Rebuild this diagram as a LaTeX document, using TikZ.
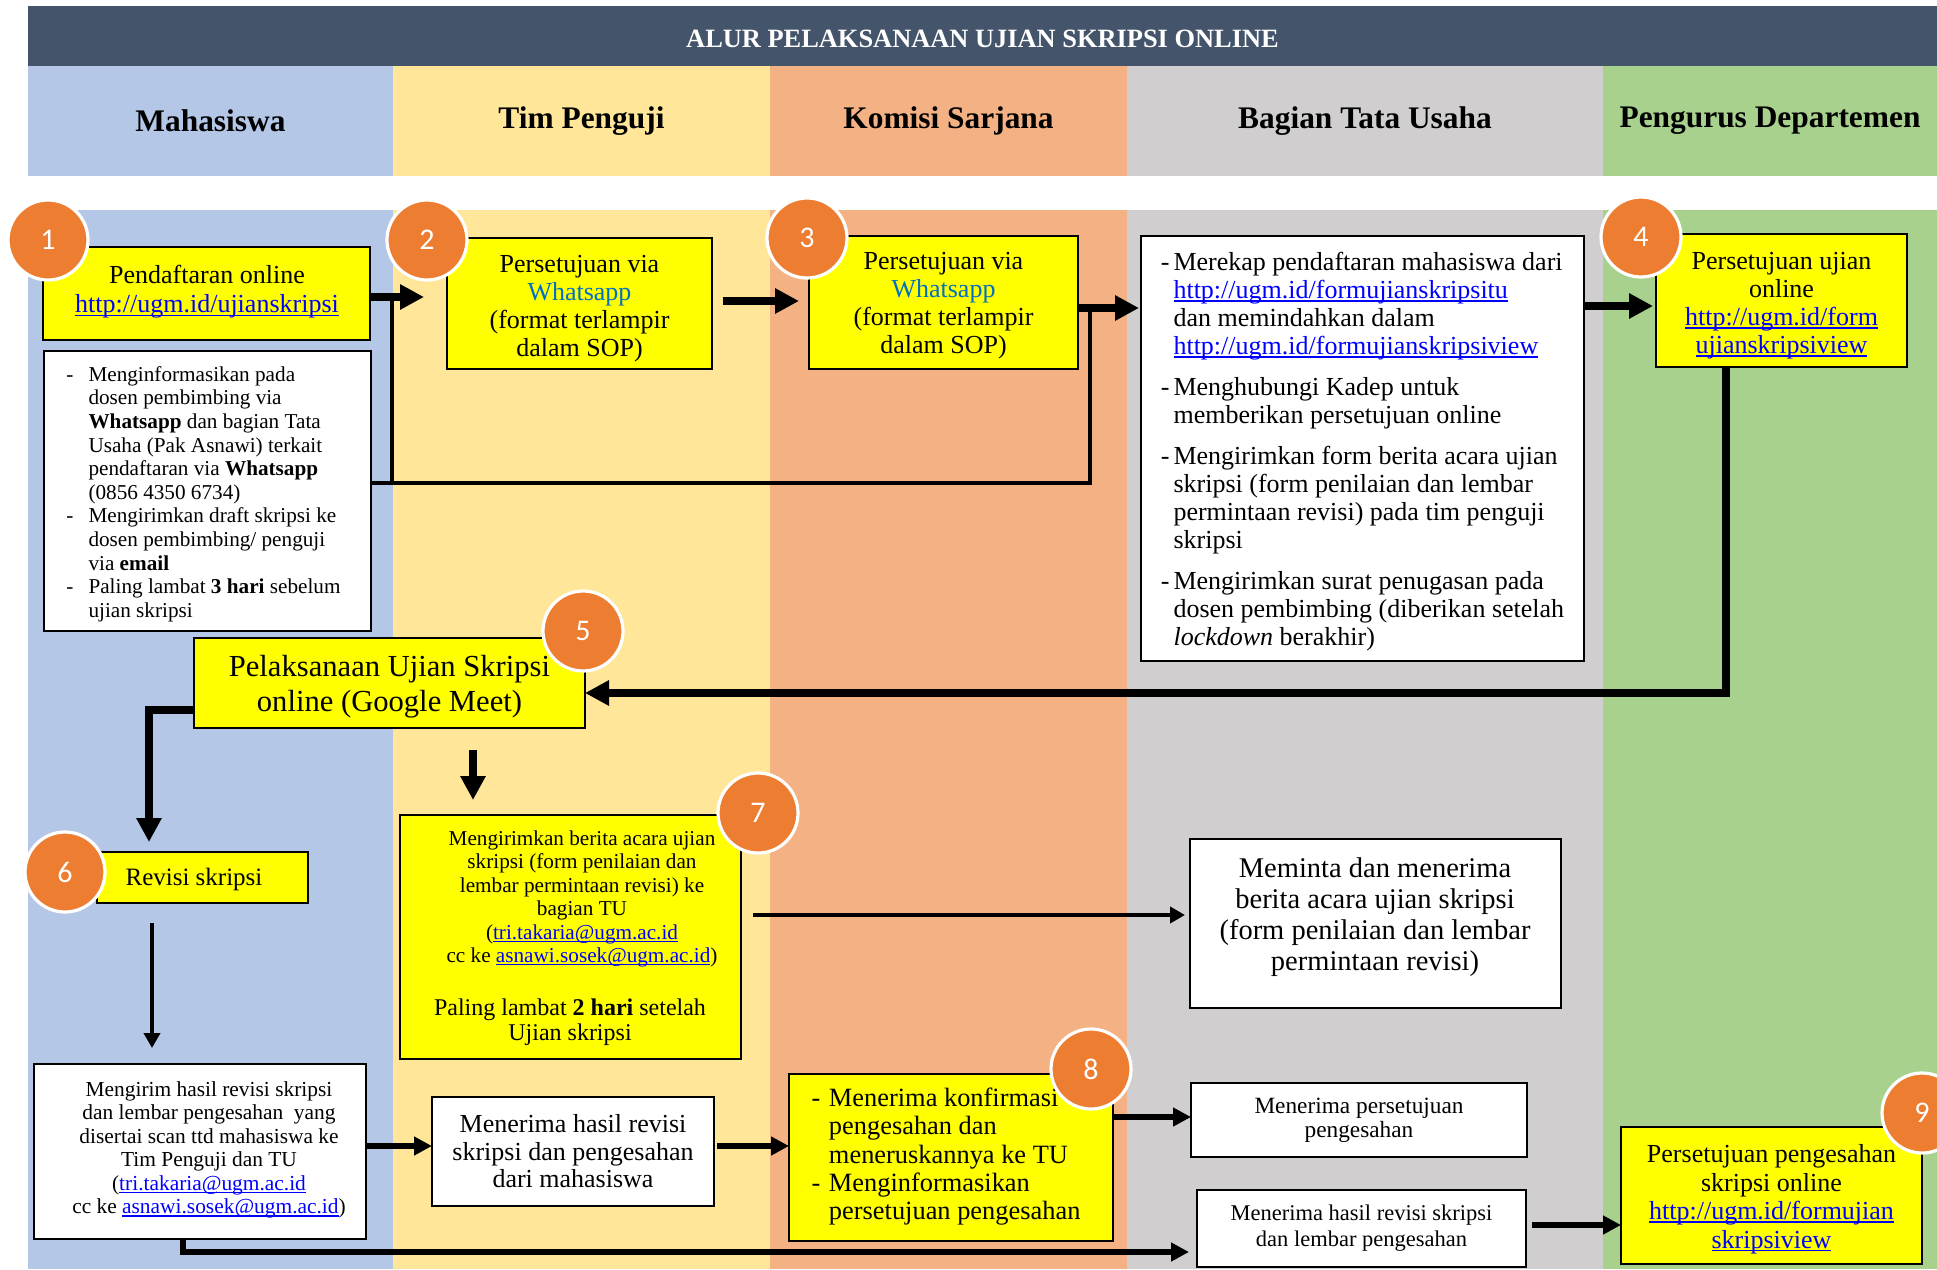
\documentclass[tikz,border=0pt]{standalone}
\usepackage{fontspec}
\setmainfont{Liberation Serif}
\newfontfamily\numfont{Carlito}
\usetikzlibrary{arrows.meta,calc}
\definecolor{titlebg}{HTML}{44546A}
\definecolor{lblue}{HTML}{B4C7E7}
\definecolor{lyellow}{HTML}{FFE699}
\definecolor{lorange}{HTML}{F4B183}
\definecolor{lgray}{HTML}{D0CECE}
\definecolor{lgreen}{HTML}{A9D18E}
\definecolor{boxyellow}{HTML}{FFFF00}
\definecolor{circ}{HTML}{ED7D31}
\definecolor{wablue}{HTML}{0070C0}
\definecolor{linkblue}{HTML}{0000FF}
\newcommand{\fs}[2]{\fontsize{#1}{#2}\selectfont}
\newsavebox{\lnkbox}
\newcommand{\lnk}[1]{{\color{linkblue}\sbox{\lnkbox}{#1}\rlap{\rule[-0.13em]{\wd\lnkbox}{0.065em}}\usebox{\lnkbox}}}
\newcommand{\sd}[1]{\rule{0pt}{#1em}}
% box from pixel corners: style, name, x1, y1, x2, y2 ; then {text};
\newcommand{\mkbox}[6]{%
  \pgfmathsetmacro{\bxcx}{(#3+#5)/2}%
  \pgfmathsetmacro{\bxcy}{(#4+#6)/2}%
  \pgfmathsetmacro{\bxw}{(#5-#3)*0.5}%
  \pgfmathsetmacro{\bxh}{(#6-#4)*0.5}%
  \node[#1, minimum width=\bxw pt, minimum height=\bxh pt] (#2) at (\bxcx,\bxcy)}
\begin{document}
\begin{tikzpicture}[x=0.5pt,y=-0.5pt,
  box/.style={draw=black, line width=1pt, inner sep=0pt, outer sep=0pt, align=center},
  ybox/.style={box, fill=boxyellow},
  wbox/.style={box, fill=white},
  numc/.style={circle, fill=circ, draw=white, line width=1.6pt, minimum size=40pt, inner sep=0pt, text=white, font=\numfont\fs{15}{18}},
  lane/.style={inner sep=0pt, outer sep=0pt, font=\bfseries\fs{15.7}{18}},
  txt/.style={inner sep=0pt, align=center},
  thickarr/.style={line width=3.8pt, -{Triangle[length=12pt,width=12pt]}},
  midarr/.style={line width=2.8pt, -{Triangle[length=9pt,width=9pt]}},
  thinarr/.style={line width=2.2pt, -{Triangle[length=7.5pt,width=8pt]}},
  conn/.style={line width=2pt}
]
\useasboundingbox (0,0) rectangle (1937,1269);
\fill[white] (0,0) rectangle (1937,1269);

% title and lane headers
\mkbox{lane, fill=titlebg, text=white, font=\bfseries\fs{13.2}{15}}{title}{28}{6}{1937}{66} {\sd{0.85}ALUR PELAKSANAAN UJIAN SKRIPSI ONLINE};
\mkbox{lane, fill=lblue}{hM}{28}{66}{393}{176} {Mahasiswa};
\mkbox{lane, fill=lyellow}{hT}{393}{66}{770}{176} {Tim Penguji};
\mkbox{lane, fill=lorange}{hK}{770}{66}{1127}{176} {Komisi Sarjana};
\mkbox{lane, fill=lgray}{hB}{1127}{66}{1603}{176} {Bagian Tata Usaha};
\mkbox{lane, fill=lgreen}{hP}{1603}{66}{1937}{176} {Pengurus Departemen};

% body lanes
\fill[lblue] (28,210) rectangle (393,1269);
\fill[lyellow] (393,210) rectangle (770,1269);
\fill[lorange] (770,210) rectangle (1127,1269);
\fill[lgray] (1127,210) rectangle (1603,1269);
\fill[lgreen] (1603,210) rectangle (1937,1269);

% boxes
\mkbox{ybox}{b1}{43}{247}{370}{340} {};
\node[txt, font=\fs{13}{14.5}] (b1t) at (207,292) {Pendaftaran online\\\lnk{http://ugm.id/ujianskripsi}};

\mkbox{wbox, font=\fs{10.6}{11.8}}{w1}{44}{351}{371}{631} {\hspace*{-4pt}\begin{tabular}{@{}l@{\hspace{7.5pt}}l@{}}
-\sd{1.12}& Menginformasikan pada\\
 & dosen pembimbing via\\
 & \textbf{Whatsapp} dan bagian Tata\\
 & Usaha (Pak Asnawi) terkait\\
 & pendaftaran via \textbf{Whatsapp}\\
 & (0856 4350 6734)\\
-& Mengirimkan draft skripsi ke\\
 & dosen pembimbing/ penguji\\
 & via \textbf{email}\\
-& Paling lambat \textbf{3 hari} sebelum\\
 & ujian skripsi
\end{tabular}};

\mkbox{ybox, font=\fs{13}{14}}{b2}{447}{238}{712}{369} {\sd{1.07}Persetujuan via\\{\color{wablue}Whatsapp}\\(format terlampir\\dalam SOP)};
\mkbox{ybox, font=\fs{13}{14}}{b3}{809}{236}{1078}{369} {\sd{0.92}Persetujuan via\\{\color{wablue}Whatsapp}\\(format terlampir\\dalam SOP)};

\mkbox{wbox, font=\fs{13}{14}}{tu1}{1141}{236}{1584}{661} {\begin{tabular}{@{}l@{\hspace{2pt}}l@{}}
-\sd{1.04}& Merekap pendaftaran mahasiswa dari\\
 & \lnk{http://ugm.id/formujianskripsitu}\\
 & dan memindahkan dalam\\
 & \lnk{http://ugm.id/formujianskripsiview}\\[6.5pt]
-& Menghubungi Kadep untuk\\
 & memberikan persetujuan online\\[6.5pt]
-& Mengirimkan form berita acara ujian\\
 & skripsi (form penilaian dan lembar\\
 & permintaan revisi) pada tim penguji\\
 & skripsi\\[6.5pt]
-& Mengirimkan surat penugasan pada\\
 & dosen pembimbing (diberikan setelah\\
 & \textit{lockdown} berakhir)
\end{tabular}};

\mkbox{ybox, font=\fs{13}{14}}{b4}{1656}{234}{1907}{367} {\sd{1.07}Persetujuan ujian\\online\\\lnk{http://ugm.id/form}\\\lnk{ujianskripsiview}};

\mkbox{ybox, font=\fs{15.3}{17.5}}{b5}{194}{638}{585}{728} {\sd{0.92}Pelaksanaan Ujian Skripsi\\online (Google Meet)};

\mkbox{ybox}{b6}{97}{852}{308}{903} {};
\node[txt, font=\fs{12.5}{14}] (b6t) at (194,879) {Revisi skripsi};

\mkbox{ybox}{b7}{400}{815}{741}{1059} {};
\node[txt, font=\fs{10.6}{11.7}] (b7ta) at (582,899) {Mengirimkan berita acara ujian\\skripsi (form penilaian dan\\lembar permintaan revisi) ke\\bagian TU\\(\lnk{tri.takaria@ugm.ac.id}\\cc ke \lnk{asnawi.sosek@ugm.ac.id})};
\node[txt, font=\fs{12}{12.5}] (b7tb) at (570,1022) {Paling lambat \textbf{2 hari} setelah\\Ujian skripsi};

\mkbox{wbox}{tu2}{1190}{839}{1561}{1008} {};
\node[txt, font=\fs{14.25}{15.5}] (tu2t) at (1375,917) {Meminta dan menerima\\berita acara ujian skripsi\\(form penilaian dan lembar\\permintaan revisi)};

\mkbox{wbox}{w2}{34}{1064}{366}{1239} {};
\node[txt, font=\fs{10.7}{11.75}] (w2t) at (209,1150) {Mengirim hasil revisi skripsi\\dan lembar pengesahan~ yang\\disertai scan ttd mahasiswa ke\\Tim Penguji dan TU\\(\lnk{tri.takaria@ugm.ac.id}\\cc ke \lnk{asnawi.sosek@ugm.ac.id})};

\mkbox{wbox, font=\fs{13}{13.75}}{w3}{432}{1097}{714}{1206} {Menerima hasil revisi\\skripsi dan pengesahan\\dari mahasiswa};

\mkbox{ybox, font=\fs{13.2}{14.1}}{b8}{789}{1074}{1113}{1241} {\hspace*{-5pt}\begin{tabular}{@{}l@{\hspace{4.3pt}}l@{}}
-& Menerima konfirmasi\\
 & pengesahan dan\\
 & meneruskannya ke TU\\
-& Menginformasikan\\
 & persetujuan pengesahan
\end{tabular}};

\mkbox{wbox, font=\fs{11.65}{12}}{tu3}{1191}{1083}{1527}{1157} {Menerima persetujuan\\pengesahan};
\mkbox{wbox, font=\fs{11.25}{13}}{tu4}{1197}{1190}{1526}{1267} {Menerima hasil revisi skripsi\\dan lembar pengesahan};

\mkbox{ybox, font=\fs{13}{14.25}}{b9}{1621}{1127}{1922}{1264} {\sd{0.97}Persetujuan pengesahan\\skripsi online\\\lnk{http://ugm.id/formujian}\\\lnk{skripsiview}};

% coordinates for arrow ends
\coordinate (t1) at (424,297);
\coordinate (t2) at (799,301);
\coordinate (t3) at (1139,308);
\coordinate (j3) at (1090,308);
\coordinate (j1) at (392,297);
\coordinate (jb) at (1090,483);
\coordinate (t4) at (1653,306);
\coordinate (k5) at (1726,693);
\coordinate (k6) at (149,710);
\coordinate (t6) at (149,842);
\coordinate (t7) at (473,800);
\coordinate (t8) at (152,1048);
\coordinate (t9) at (1185,915);
\coordinate (t10) at (441,1146);
\coordinate (k12) at (183,1252);
\coordinate (t13) at (1189,1117);
\coordinate (t14) at (1621,1225);

% connectors
\draw[conn] (j3) |- (w1.east |- jb);
\draw[conn] (j1) -- (j1 |- jb);
\draw[thickarr] (b1.east |- t1) -- (t1);
\draw[thickarr, shorten <=5.5pt] (b2.east |- t2) -- (t2);
\draw[thickarr] (b3.east |- t3) -- (t3);
\draw[thickarr] (tu1.east |- t4) -- (t4);
\draw[thickarr] (b4.south -| k5) -- (k5) -- (b5.east |- k5);
\draw[thickarr] (b5.west |- k6) -- (k6) -- (t6);
\draw[thickarr, shorten <=11pt] (b5.south -| t7) -- (t7);
\draw[thinarr, shorten <=10pt] (b6.south -| t8) -- (t8);
\draw[thinarr, shorten <=6pt] (b7.east |- t9) -- (t9);
\draw[midarr] (w2.east |- t10) -- (w3.west |- t10);
\draw[midarr, shorten <=1.5pt] (w3.east |- t10) -- (b8.west |- t10);
\draw[midarr] (w2.south -| k12) -- (k12) -- ($(tu4.west |- k12)+(-8,0)$);
\draw[midarr] (b8.east |- t13) -- (tu3.west |- t13);
\draw[midarr, shorten <=3pt] (tu4.east |- t14) -- (b9.west |- t14);

% numbered circles
\node[numc] (c1) at (48,240) {1};
\node[numc] (c2) at (427,240) {2};
\node[numc] (c3) at (807,238) {3};
\node[numc] (c4) at (1641,237) {4};
\node[numc] (c5) at (583,631) {5};
\node[numc] (c6) at (65,872) {6};
\node[numc] (c7) at (758,813) {7};
\node[numc] (c8) at (1091,1069) {8};
\node[numc] (c9) at (1922,1113) {9};
\end{tikzpicture}
\end{document}
